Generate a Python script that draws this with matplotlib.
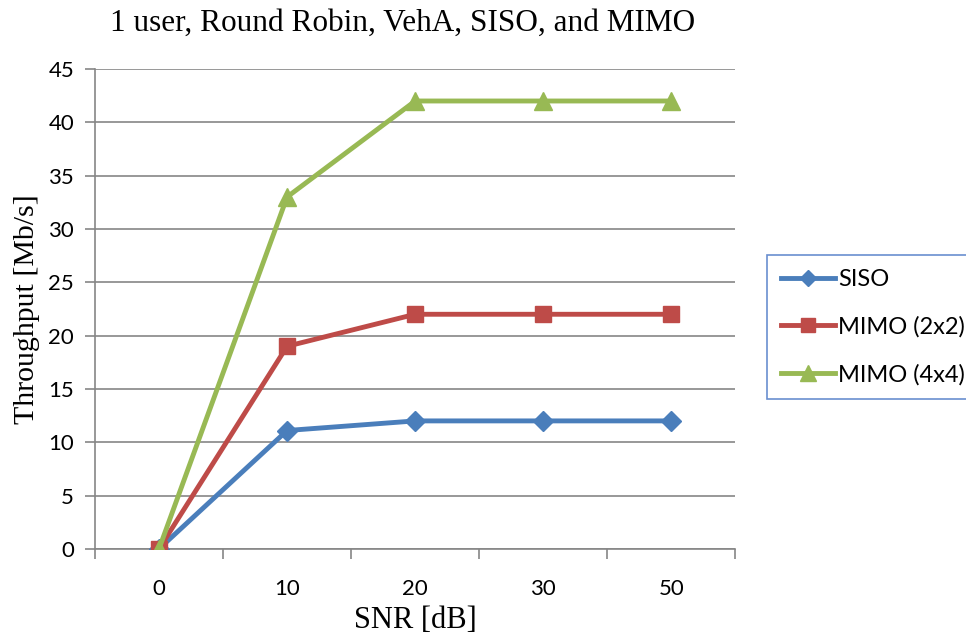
import matplotlib
matplotlib.use("Agg")
import matplotlib.pyplot as plt
from matplotlib.ticker import MultipleLocator, FixedLocator

snr = ["0", "10", "20", "30", "50"]
siso = [0, 11.1, 12, 12, 12]
mimo_2x2 = [0, 19, 22, 22, 22]
mimo_4x4 = [0, 33, 42, 42, 42]

SANS = "Lato"
SERIF = "Liberation Serif"

fig = plt.figure(figsize=(9.66, 6.36), dpi=100)
ax = fig.add_axes([0.0983, 0.137, 0.663, 0.7545])

x = range(len(snr))
ax.plot(x, siso, "-", color="#4A7EBB", lw=3.5, marker="D", ms=10,
        label="SISO", zorder=3)
ax.plot(x, mimo_2x2, "-", color="#BE4B48", lw=3.5, marker="s", ms=12,
        label="MIMO (2x2)", zorder=3)
ax.plot(x, mimo_4x4, "-", color="#98B954", lw=3.5, marker="^", ms=13,
        label="MIMO (4x4)", zorder=3)

ax.set_xlim(-0.5, len(snr) - 0.5)
ax.set_ylim(0, 45)
ax.yaxis.set_major_locator(MultipleLocator(5))
ax.set_xticks(list(x))
ax.set_xticklabels(snr)
ax.xaxis.set_minor_locator(FixedLocator([i - 0.5 for i in range(len(snr) + 1)]))
ax.tick_params(axis="x", which="major", length=0, pad=22)
ax.tick_params(axis="x", which="minor", length=7, width=1.2, color="#868686",
               direction="out")
ax.tick_params(axis="y", length=7, width=1.2, color="#868686", pad=8)
for lab in ax.get_xticklabels() + ax.get_yticklabels():
    lab.set_fontfamily(SANS)
    lab.set_fontsize(16)

ax.grid(axis="y", color="#868686", lw=1.2)
ax.set_axisbelow(True)
for side in ["top", "right"]:
    ax.spines[side].set_visible(False)
ax.spines["left"].set_color("#868686")
ax.spines["bottom"].set_color("#868686")
ax.spines["left"].set_linewidth(1.2)
ax.spines["bottom"].set_linewidth(1.2)

ax.set_xlabel("SNR [dB]", family=SERIF, fontsize=22, labelpad=5)
ax.set_ylabel("Throughput [Mb/s]", family=SERIF, fontsize=21.5, labelpad=6)
fig.text(0.417, 0.963, "1 user, Round Robin, VehA, SISO, and MIMO",
         family=SERIF, fontsize=22.5, ha="center", va="center")

leg = fig.legend(loc="upper left", bbox_to_anchor=(0.794, 0.599),
                 prop={"family": SANS, "size": 17}, frameon=True,
                 fancybox=False, borderpad=0.6, labelspacing=1.1,
                 handlelength=2.3, handletextpad=0.1, borderaxespad=0,
                 markerscale=0.85)
leg.get_frame().set_edgecolor("#4472C4")
leg.get_frame().set_linewidth(1.2)

fig.savefig("out.png", dpi=100)
